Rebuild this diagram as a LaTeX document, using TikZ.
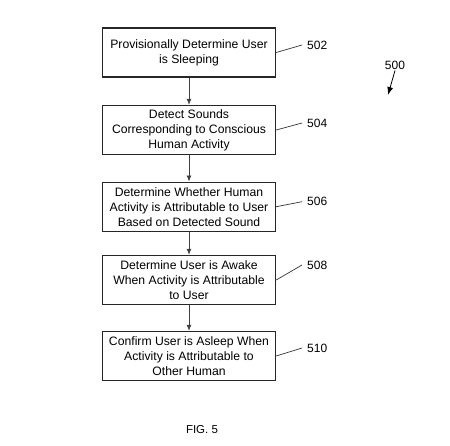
\documentclass[tikz,border=0pt]{standalone}
\usepackage{fontspec}
\setmainfont{Liberation Sans}
\usetikzlibrary{arrows.meta, positioning}

\begin{document}
\begin{tikzpicture}[
  x=1pt, y=-1pt,
  stepbox/.style={draw=black!85, line width=1.4pt, minimum width=173pt,
    minimum height=49pt, align=center, inner sep=1pt,
    font=\fontsize{12.2}{15}\selectfont},
  flow/.style={-{Latex[length=6pt, width=5pt]}, line width=0.8pt, black!75},
  lead/.style={line width=0.7pt, black!80},
  ref/.style={font=\fontsize{12}{13}\selectfont, inner sep=1pt},
]
  \useasboundingbox (0,0) rectangle (450,445);

  %% Steps
  \node[stepbox] (s502) at (189,52.5)  {Provisionally Determine User\\is Sleeping};
  \node[stepbox] (s504) at (189,130)   {Detect Sounds\\Corresponding to Conscious\\Human Activity};
  \node[stepbox] (s506) at (189,206.7) {Determine Whether Human\\Activity is Attributable to User\\Based on Detected Sound};
  \node[stepbox] (s508) at (189,280)   {Determine User is Awake\\When Activity is Attributable\\to User};
  \node[stepbox] (s510) at (189,356)   {Confirm User is Asleep When\\Activity is Attributable to\\Other Human};

  \draw[flow] (s502) -- (s504);
  \draw[flow] (s504) -- (s506);
  \draw[flow] (s506) -- (s508);
  \draw[flow] (s508) -- (s510);

  %% Reference numerals
  \foreach \n/\y in {502/45, 504/123, 506/201.7, 508/265, 510/348} {
    \node[ref, anchor=west] (r\n) at (306,\y) {\n};
    \draw[lead] (s\n.east) -- ([xshift=-4pt]r\n.west);
  }

  \node[ref] (r500) at (395,65) {500};
  \coordinate (p500) at (388,95);
  \draw[-{Latex[length=8pt, width=6pt]}, line width=0.8pt] (r500.south) -- (p500);

  \node[font=\fontsize{11.5}{13}\selectfont] (fig) at (202,430) {FIG. 5};
\end{tikzpicture}
\end{document}
